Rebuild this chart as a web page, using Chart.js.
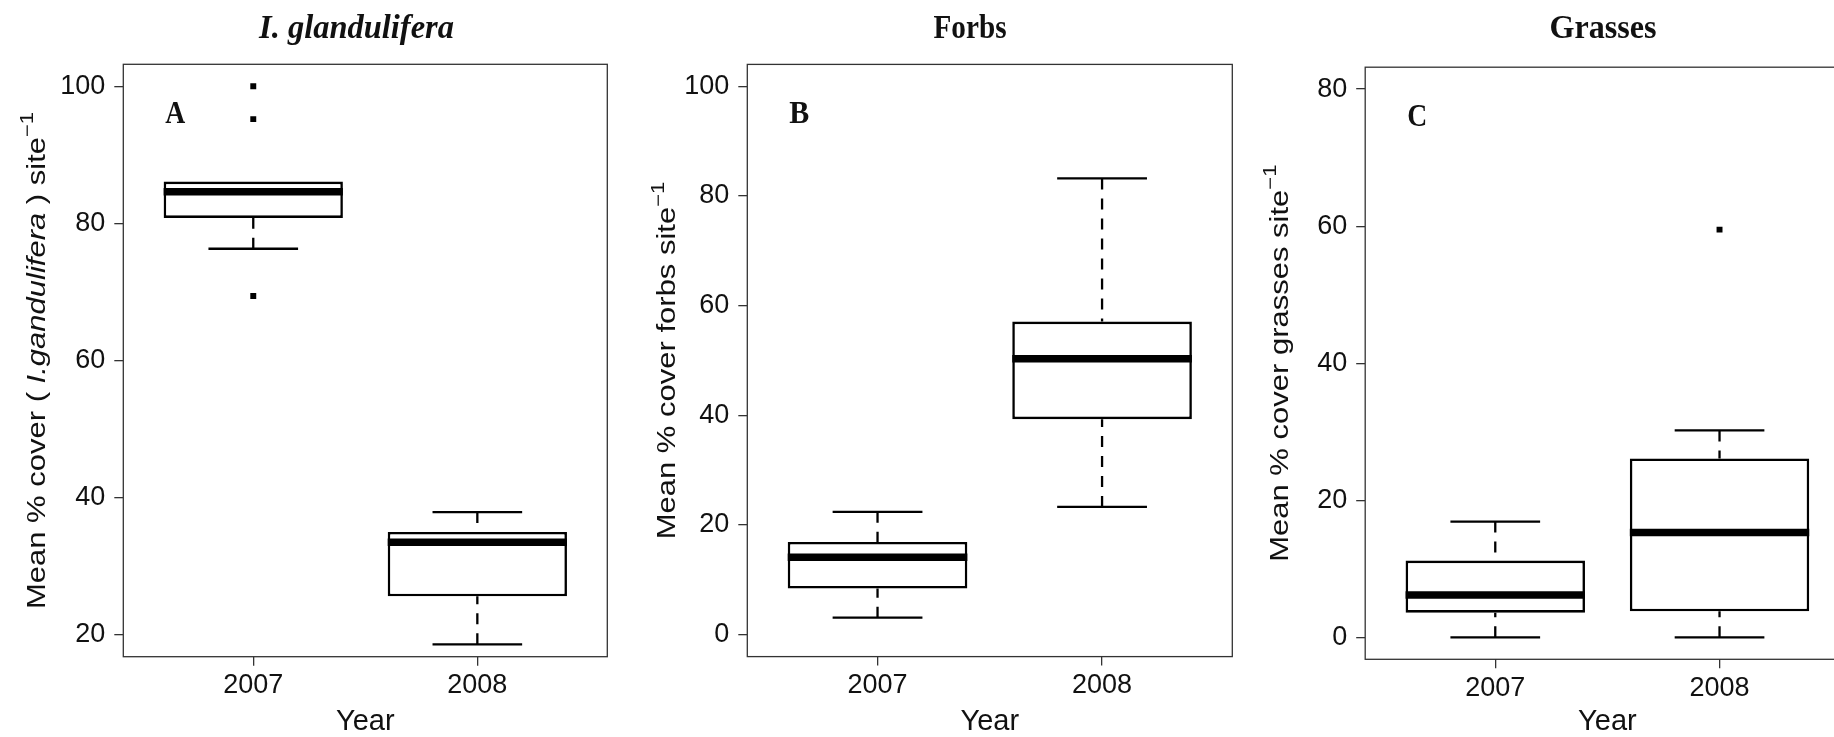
<!DOCTYPE html>
<html>
<head>
<meta charset="utf-8">
<script src="https://cdn.jsdelivr.net/npm/chart.js@4.4.1/dist/chart.umd.min.js"></script>
<style>
  html, body { margin: 0; padding: 0; background: #ffffff; overflow: hidden; width: 1834px; height: 737px; }
  canvas { position: absolute; top: 0; }
</style>
</head>
<body>
<canvas id="cA" width="620" height="737" style="left:0px"></canvas>
<canvas id="cB" width="620" height="737" style="left:620px"></canvas>
<canvas id="cC" width="620" height="737" style="left:1240px"></canvas>
<script>
// ---------------- data ----------------
const categories = ['2007', '2008'];

const panelTitles = ['I. glandulifera', 'Forbs', 'Grasses'];
const panelLetters = ['A', 'B', 'C'];
const xAxisTitle = 'Year';

// I. glandulifera cover
const impLowWhisker  = [76.3, 18.6];
const impQ1          = [80.8, 25.6];
const impMedian      = [84.6, 33.5];
const impQ3          = [86.1, 35.0];
const impHighWhisker = [86.1, 37.9];
const impOutliers    = [[100, 95.2, 69.4], []];
const impTicks       = [20, 40, 60, 80, 100];

// Forbs cover
const forbLowWhisker  = [3.1, 23.3];
const forbQ1          = [8.4, 39.3];
const forbMedian      = [14.1, 50.3];
const forbQ3          = [16.9, 57.1];
const forbHighWhisker = [22.4, 83.2];
const forbOutliers    = [[], []];
const forbTicks       = [0, 20, 40, 60, 80, 100];

// Grasses cover
const grassLowWhisker  = [0, 0];
const grassQ1          = [3.6, 3.8];
const grassMedian      = [6.2, 15.3];
const grassQ3          = [11.2, 26.1];
const grassHighWhisker = [16.9, 30.2];
const grassOutliers    = [[], [59.5]];
const grassTicks       = [0, 20, 40, 60, 80];

// y-axis title pieces
const impYTitle   = [{t: 'Mean % cover ( '}, {t: 'I.gandulifera', italic: true}, {t: ' ) site'}, {t: '\u22121', sup: true}];
const forbYTitle  = [{t: 'Mean % cover forbs site'}, {t: '\u22121', sup: true}];
const grassYTitle = [{t: 'Mean % cover grasses site'}, {t: '\u22121', sup: true}];

// ---------------- styling ----------------
const SANS = "'Liberation Sans', Arial, Helvetica, sans-serif";
const NARROW = "'Liberation Sans Narrow', 'Arial Narrow', 'Liberation Sans', Arial, sans-serif";
const SERIF = "'Liberation Serif', 'Times New Roman', Times, serif";
const INK = '#111111';
const FRAME = '#333333';

Chart.defaults.font.family = NARROW;
Chart.defaults.color = INK;

const boxPlugin = {
  id: 'boxParts',
  beforeDatasetsDraw(chart) {
    const a = chart.chartArea, ctx = chart.ctx;
    ctx.save();
    ctx.strokeStyle = FRAME;
    ctx.lineWidth = 1.3;
    ctx.strokeRect(a.left, a.top, a.right - a.left, a.bottom - a.top);
    ctx.restore();
  },
  afterDatasetsDraw(chart, args, opts) {
    const ctx = chart.ctx;
    const xs = chart.scales.x, ys = chart.scales.y;
    const bars = chart.getDatasetMeta(0).data;
    ctx.save();
    ctx.strokeStyle = '#000';
    opts.med.forEach((m, i) => {
      const cx = xs.getPixelForValue(i + 1);
      const w = bars[i].width;
      const yLo = ys.getPixelForValue(opts.lo[i]);
      const yHi = ys.getPixelForValue(opts.hi[i]);
      const yQ1 = ys.getPixelForValue(opts.q1[i]);
      const yQ3 = ys.getPixelForValue(opts.q3[i]);
      const yMed = ys.getPixelForValue(m);
      ctx.lineWidth = 2.3;
      ctx.lineCap = 'butt';
      // whiskers (dashed), drawn from whisker end toward the box
      ctx.setLineDash([11, 9]);
      ctx.beginPath();
      if (opts.hi[i] > opts.q3[i]) { ctx.moveTo(cx, yHi); ctx.lineTo(cx, yQ3); }
      if (opts.lo[i] < opts.q1[i]) { ctx.moveTo(cx, yLo); ctx.lineTo(cx, yQ1); }
      ctx.stroke();
      ctx.setLineDash([]);
      // staples
      ctx.beginPath();
      if (opts.hi[i] > opts.q3[i]) { ctx.moveTo(cx - w / 4, yHi); ctx.lineTo(cx + w / 4, yHi); }
      if (opts.lo[i] < opts.q1[i]) { ctx.moveTo(cx - w / 4, yLo); ctx.lineTo(cx + w / 4, yLo); }
      ctx.stroke();
      // median
      ctx.lineWidth = 7.5;
      ctx.beginPath();
      ctx.moveTo(cx - w / 2, yMed); ctx.lineTo(cx + w / 2, yMed);
      ctx.stroke();
    });
    ctx.restore();
  },
  afterDraw(chart, args, opts) {
    const ctx = chart.ctx, a = chart.chartArea;
    ctx.save();
    // panel title
    ctx.fillStyle = INK;
    ctx.textAlign = 'center';
    ctx.textBaseline = 'alphabetic';
    ctx.font = (opts.titleItalic ? 'italic ' : '') + 'bold 34px ' + SERIF;
    ctx.fillText(opts.title, opts.titleX, 37.6, opts.titleW);
    // panel letter
    ctx.textAlign = 'left';
    ctx.font = 'bold 32px ' + SERIF;
    ctx.fillText(opts.letter, a.left + 42, a.top + 59, 20);
    // rotated y-axis title
    const size = 31;
    const parts = opts.yTitle.map(s => {
      const f = (s.italic ? 'italic ' : '') + (s.sup ? Math.round(size * 0.72) : size) + 'px ' + SANS;
      ctx.font = f;
      return Object.assign({}, s, {font: f, w: ctx.measureText(s.t).width});
    });
    const total = parts.reduce((s, p) => s + p.w, 0);
    ctx.translate(opts.yTitleX, (a.top + a.bottom) / 2);
    ctx.rotate(-Math.PI / 2);
    ctx.scale(1, 0.82);
    let x = -total / 2;
    parts.forEach(p => {
      ctx.font = p.font;
      ctx.fillText(p.t, x, p.sup ? -size * 0.45 : 0);
      x += p.w;
    });
    ctx.restore();
  }
};

function makePanel(canvasId, s, layout) {
  const boxData = categories.map((c, i) => ({x: i + 1, y: [s.q1[i], s.q3[i]]}));
  const outData = [];
  s.out.forEach((list, i) => list.forEach(v => outData.push({x: i + 1, y: v})));
  return new Chart(document.getElementById(canvasId), {
    type: 'bar',
    data: {
      datasets: [
        {
          type: 'bar',
          data: boxData,
          backgroundColor: '#ffffff',
          borderColor: '#000000',
          borderWidth: 2.6,
          borderSkipped: false,
          barPercentage: 0.8,
          categoryPercentage: 1.0
        },
        {
          type: 'scatter',
          data: outData,
          pointStyle: 'rect',
          pointRadius: 4.2,
          pointBackgroundColor: '#000000',
          pointBorderWidth: 0
        }
      ]
    },
    options: {
      responsive: false,
      animation: false,
      devicePixelRatio: 1,
      layout: {padding: {top: layout.top, right: 620 - layout.right, bottom: 0, left: 0}},
      plugins: {
        legend: {display: false},
        tooltip: {enabled: false},
        title: {display: false},
        boxParts: {
          lo: s.lo, q1: s.q1, med: s.med, q3: s.q3, hi: s.hi,
          title: s.title, titleItalic: s.titleItalic, letter: s.letter, yTitle: s.yTitle,
          titleX: layout.titleX, titleW: layout.titleW, yTitleX: layout.yTitleX
        }
      },
      scales: {
        x: {
          type: 'linear',
          offset: false,
          min: 0.42,
          max: 2.58,
          afterBuildTicks: ax => { ax.ticks = categories.map((c, i) => ({value: i + 1})); },
          afterFit: ax => { ax.height = 737 - layout.bottom; },
          ticks: {
            autoSkip: false, maxRotation: 0, padding: 4,
            font: {family: NARROW, size: 27}, color: INK,
            callback: v => categories[Math.round(v) - 1]
          },
          grid: {display: true, offset: false, drawOnChartArea: false, drawTicks: true, tickLength: 9, color: FRAME, lineWidth: 1.3},
          border: {display: false},
          title: {display: true, text: xAxisTitle, color: INK, font: {family: NARROW, size: 29, lineHeight: 1}, padding: {top: 0, bottom: 1}}
        },
        y: {
          type: 'linear',
          min: s.min,
          max: s.max,
          afterBuildTicks: ax => { ax.ticks = s.ticks.map(v => ({value: v})); },
          afterFit: ax => { ax.width = layout.left; },
          ticks: {padding: 9, font: {family: NARROW, size: 27}, color: INK},
          grid: {display: true, drawOnChartArea: false, drawTicks: true, tickLength: 9, color: FRAME, lineWidth: 1.3},
          border: {display: false}
        }
      }
    },
    plugins: [boxPlugin]
  });
}

makePanel('cA', {
  lo: impLowWhisker, q1: impQ1, med: impMedian, q3: impQ3, hi: impHighWhisker, out: impOutliers,
  ticks: impTicks, min: 16.8, max: 103.2,
  title: panelTitles[0], titleItalic: true, letter: panelLetters[0], yTitle: impYTitle
}, {left: 123.3, top: 64.3, right: 607.3, bottom: 656.7, yTitleX: 44.7, titleX: 356.5, titleW: 195});

makePanel('cB', {
  lo: forbLowWhisker, q1: forbQ1, med: forbMedian, q3: forbQ3, hi: forbHighWhisker, out: forbOutliers,
  ticks: forbTicks, min: -4, max: 104,
  title: panelTitles[1], titleItalic: false, letter: panelLetters[1], yTitle: forbYTitle
}, {left: 127.3, top: 64.4, right: 612.3, bottom: 656.6, yTitleX: 55.4, titleX: 350, titleW: 73});

makePanel('cC', {
  lo: grassLowWhisker, q1: grassQ1, med: grassMedian, q3: grassQ3, hi: grassHighWhisker, out: grassOutliers,
  ticks: grassTicks, min: -3.2, max: 83.2,
  title: panelTitles[2], titleItalic: false, letter: panelLetters[2], yTitle: grassYTitle
}, {left: 125.2, top: 67.2, right: 609.6, bottom: 659.3, yTitleX: 47.8, titleX: 363, titleW: 107});
</script>
</body>
</html>
